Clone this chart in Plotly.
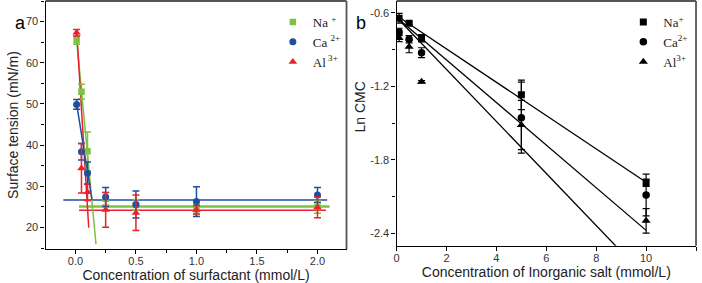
import plotly.graph_objects as go

# ---------------- Panel a data ----------------
conc_surf = [0.01, 0.05, 0.1, 0.25, 0.5, 1.0, 2.0]
na_st = [65.5, 53.0, 38.5, 27.0, 25.5, 24.4, 25.0]
na_st_err = [1.0, 1.8, 4.7, 1.5, 1.3, 1.2, 1.5]
ca_st = [49.9, 38.4, 33.2, 27.4, 25.6, 26.3, 27.9]
ca_st_err = [1.2, 2.0, 2.7, 2.3, 3.3, 3.6, 1.8]
al_st = [67.3, 34.4, 28.6, 24.3, 23.6, 24.3, 24.9]
al_st_err = [0.8, 6.0, 2.0, 4.2, 4.3, 1.0, 2.5]

# fitted lines (panel a): steep part and plateau
na_fit1_x = [0.005, 0.17]
na_fit1_y = [67.2, 16.0]
ca_fit1_x = [0.01, 0.137]
ca_fit1_y = [50.0, 26.7]
al_fit1_x = [0.01, 0.11]
al_fit1_y = [68.0, 20.0]
na_fit2_x = [0.03, 2.1]
na_fit2_y = [25.1, 25.1]
ca_fit2_x = [-0.1, 2.08]
ca_fit2_y = [26.7, 26.7]
al_fit2_x = [0.03, 2.07]
al_fit2_y = [24.2, 24.2]

# ---------------- Panel b data ----------------
conc_salt = [0.1, 0.5, 1.0, 5.0, 10.0]
na_lncmc = [-0.646, -0.686, -0.809, -1.27, -1.987]
na_lncmc_err = [0.04, 0.01, 0.03, 0.12, 0.03]
ca_lncmc = [-0.757, -0.817, -0.926, -1.456, -2.087]
ca_lncmc_err = [0.03, 0.03, 0.04, 0.29, 0.17]
al_lncmc = [-0.806, -0.877, -1.163, -1.516, -2.297]
al_lncmc_err = [0.03, 0.05, 0.01, 0.2, 0.1]

fit_b_x = [0.1, 10.0]
na_fit_b_y = [-0.638, -1.983]
ca_fit_b_y = [-0.655, -2.375]
al_fit_b_y = [-0.66, -2.76]

GREEN = "#7DC242"
BLUE = "#1F4E9E"
RED = "#E8212B"

fig = go.Figure()

def line(x, y, color, width, xa, ya):
    fig.add_trace(go.Scatter(x=x, y=y, mode="lines", line=dict(color=color, width=width),
                             showlegend=False, xaxis=xa, yaxis=ya, hoverinfo="skip"))

# panel a lines
line(ca_fit2_x, ca_fit2_y, BLUE, 1.5, "x", "y")
line(na_fit2_x, na_fit2_y, GREEN, 2.5, "x", "y")
line(al_fit2_x, al_fit2_y, RED, 1.5, "x", "y")
line(na_fit1_x, na_fit1_y, GREEN, 1.5, "x", "y")
line(al_fit1_x, al_fit1_y, RED, 1.5, "x", "y")
line(ca_fit1_x, ca_fit1_y, BLUE, 1.5, "x", "y")

def pts(x, y, err, color, symbol, size, name, xa, ya, legend):
    fig.add_trace(go.Scatter(
        x=x, y=y, mode="markers", name=name,
        marker=dict(color=color, symbol=symbol, size=size, line=dict(width=0)),
        error_y=dict(type="data", array=err, visible=True, color=color, thickness=1.5, width=3.5),
        xaxis=xa, yaxis=ya, legend=legend))

pts(conc_surf, na_st, na_st_err, GREEN, "square", 6.5, "Na <sup>+</sup>", "x", "y", "legend")
pts(conc_surf, ca_st, ca_st_err, BLUE, "circle", 7, "Ca <sup>2+</sup>", "x", "y", "legend")
pts(conc_surf, al_st, al_st_err, RED, "triangle-up", 7.5, "Al<sup> 3+</sup>", "x", "y", "legend")

# panel b lines
line(fit_b_x, na_fit_b_y, "black", 1.3, "x2", "y2")
line(fit_b_x, ca_fit_b_y, "black", 1.3, "x2", "y2")
line(fit_b_x, al_fit_b_y, "black", 1.3, "x2", "y2")

def ptsb(x, y, err, symbol, size, name):
    fig.add_trace(go.Scatter(
        x=x, y=y, mode="markers", name=name,
        marker=dict(color="black", symbol=symbol, size=size, line=dict(width=0)),
        error_y=dict(type="data", array=err, visible=True, color="black", thickness=1.2, width=3.5),
        xaxis="x2", yaxis="y2", legend="legend2"))

ptsb(conc_salt, na_lncmc, na_lncmc_err, "square", 7, "Na<sup>+</sup>")
ptsb(conc_salt, ca_lncmc, ca_lncmc_err, "circle", 7.5, "Ca<sup>2+</sup>")
ptsb(conc_salt, al_lncmc, al_lncmc_err, "triangle-up", 8, "Al<sup>3+</sup>")

W, H = 702, 283
def fx(px): return px / W
def fy(py): return 1 - py / H

tickfont = dict(family="Liberation Sans, Arial", size=11, color="#333")
titlefont = dict(family="Liberation Sans, Arial", size=14, color="#222")
axis_common = dict(showline=True, linecolor="black", linewidth=1.3, ticks="outside",
                   ticklen=4, tickwidth=1, tickcolor="black", showgrid=False, zeroline=False,
                   tickfont=tickfont, title_font=titlefont, mirror=False)

legend_font = dict(family="Liberation Serif, Times New Roman", size=13, color="#222")

fig.update_layout(
    width=W, height=H, margin=dict(l=0, r=0, t=0, b=0),
    plot_bgcolor="white", paper_bgcolor="white",
    xaxis=dict(domain=[fx(42.7), fx(345)], range=[-0.247, 2.24], tickvals=[0, 0.5, 1.0, 1.5, 2.0],
               ticktext=["0.0", "0.5", "1.0", "1.5", "2.0"], ticklabelstandoff=-2,
               minor=dict(dtick=0.25, ticks="outside", ticklen=3, tickcolor="black"),
               title=dict(text="Concentration of surfactant (mmol/L)", standoff=3), **axis_common),
    yaxis=dict(domain=[fy(249), fy(1)], range=[14.8, 75], tickvals=[20, 30, 40, 50, 60, 70],
               minor=dict(dtick=5, ticks="outside", ticklen=3, tickcolor="black"),
               title=dict(text="Surface tension (mN/m)", standoff=4), **axis_common),
    xaxis2=dict(domain=[fx(395.3), fx(696)], range=[0, 12], tickvals=[0, 2, 4, 6, 8, 10, 12],
                anchor="y2", ticklabelstandoff=-2,
                title=dict(text="Concentration of Inorganic salt (mmol/L)", standoff=3), **axis_common),
    yaxis2=dict(domain=[fy(245.7), fy(1)], range=[-2.5, -0.505], tickvals=[-0.6, -1.2, -1.8, -2.4],
                ticktext=["-0.6", "-1.2", "-1.8", "-2.4"], anchor="x2",
                minor=dict(dtick=0.3, tick0=-0.6, ticks="outside", ticklen=3, tickcolor="black"),
                **axis_common),
    legend=dict(x=fx(271), y=fy(7), xanchor="left", yanchor="top", bgcolor="rgba(0,0,0,0)",
                font=legend_font, tracegroupgap=5, itemsizing="trace"),
    legend2=dict(x=fx(623), y=fy(7), xanchor="left", yanchor="top", bgcolor="rgba(0,0,0,0)",
                 font=legend_font, tracegroupgap=5, itemsizing="trace"),
    showlegend=True,
    annotations=[
        dict(text="a", x=fx(10), y=fy(11), xref="paper", yref="paper", showarrow=False,
             font=dict(family="Liberation Sans, Arial", size=18, color="black")),
        dict(text="b", x=fx(360), y=fy(11), xref="paper", yref="paper", showarrow=False,
             font=dict(family="Liberation Sans, Arial", size=18, color="black")),
        dict(text="Ln CMC", x=fx(359), y=fy(107), xref="paper", yref="paper", showarrow=False,
             textangle=-90, font=titlefont),
    ],
    shapes=[
        dict(type="line", xref="x domain", yref="y domain", x0=0, x1=1, y0=1, y1=1,
             line=dict(color="#555", width=1.8)),
        dict(type="line", xref="x domain", yref="y domain", x0=1, x1=1, y0=0, y1=1,
             line=dict(color="#555", width=1.8)),
        dict(type="line", xref="x2 domain", yref="y2 domain", x0=0, x1=1, y0=1, y1=1,
             line=dict(color="#555", width=1.8)),
        dict(type="line", xref="x2 domain", yref="y2 domain", x0=1, x1=1, y0=0, y1=1,
             line=dict(color="#555", width=1.8)),
    ],
)

fig.write_html("out.html", config={"displayModeBar": False},
               post_script="document.body.style.margin='0';document.body.style.overflow='hidden';")
